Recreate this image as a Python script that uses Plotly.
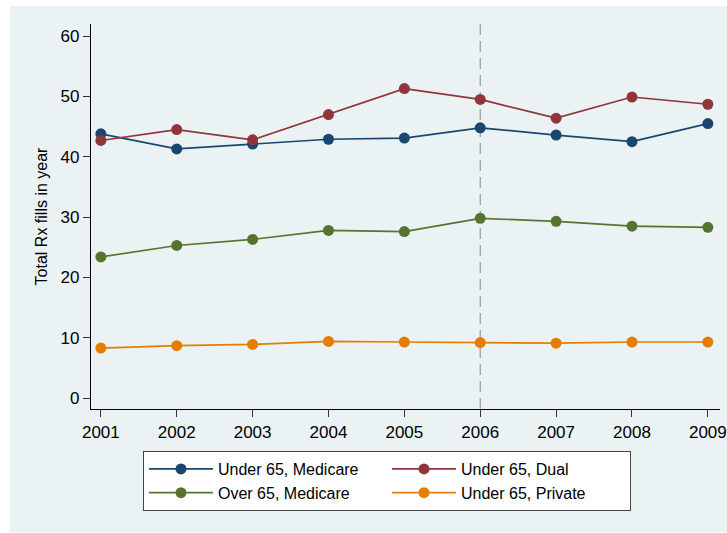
import plotly.graph_objects as go

years = [2001, 2002, 2003, 2004, 2005, 2006, 2007, 2008, 2009]
under65_medicare = [43.8, 41.3, 42.1, 42.9, 43.1, 44.8, 43.6, 42.5, 45.5]
under65_dual = [42.7, 44.5, 42.8, 47.0, 51.3, 49.5, 46.4, 49.9, 48.7]
over65_medicare = [23.4, 25.3, 26.3, 27.8, 27.6, 29.8, 29.3, 28.5, 28.3]
under65_private = [8.3, 8.7, 8.9, 9.4, 9.3, 9.2, 9.1, 9.3, 9.3]

series_names = ["Under 65, Medicare", "Under 65, Dual", "Over 65, Medicare", "Under 65, Private"]
series_colors = ["#1A476F", "#90353B", "#55752F", "#E37E00"]
y_ticks = [0, 10, 20, 30, 40, 50, 60]
grid_vals = [10, 20, 30, 40, 50]
ref_year = 2006
y_title = "Total Rx fills in year"

BG = "#EAF2F3"
FONT = "Liberation Sans, Arial, Helvetica, sans-serif"

fig = go.Figure()
for name, vals, col in zip(series_names,
                           [under65_medicare, under65_dual, over65_medicare, under65_private],
                           series_colors):
    fig.add_trace(go.Scatter(
        x=years, y=vals, name=name, mode="lines+markers",
        line=dict(color=col, width=1.7),
        marker=dict(color=col, size=11),
        cliponaxis=False,
    ))

W, H = 727, 533
L, R, T, B = 91, 7, 24, 124
pw, ph = W - L - R, H - T - B

def px_x(p):
    return (p - L) / pw

def px_y(p):
    return (H - B - p) / ph

shapes = []
# outer background panel
shapes.append(dict(type="rect", xref="paper", yref="paper",
                   x0=px_x(10), x1=px_x(730), y0=px_y(532), y1=px_y(6),
                   fillcolor=BG, line=dict(width=0), layer="below"))
for g in grid_vals:
    shapes.append(dict(type="line", xref="paper", yref="y", x0=0, x1=1, y0=g, y1=g,
                       line=dict(color=BG, width=1.2), layer="below"))
shapes.append(dict(type="line", xref="x", yref="paper", x0=ref_year, x1=ref_year, y0=0, y1=1,
                   line=dict(color="#9A9A9A", width=1.2, dash="11px,6px"), layer="below"))

fig.update_layout(
    width=W, height=H,
    margin=dict(l=L, r=R, t=T, b=B, autoexpand=False),
    paper_bgcolor="white",
    plot_bgcolor="white",
    font=dict(family=FONT, size=16, color="black"),
    shapes=shapes,
    showlegend=True,
    legend=dict(
        orientation="h", x=px_x(143), y=px_y(451), xanchor="left", yanchor="top",
        bgcolor="white", bordercolor="#444444", borderwidth=1,
        entrywidth=164, entrywidthmode="pixels",
        font=dict(family=FONT, size=16, color="black"),
        itemwidth=64, traceorder="normal", tracegroupgap=0,
    ),
    xaxis=dict(
        range=[2000.87, 2009.16], tickvals=years, ticktext=[str(y) for y in years],
        showgrid=False, zeroline=False, showline=True, linecolor="black", linewidth=1.2,
        ticks="outside", ticklen=7, tickcolor="#333333", tickwidth=1.2,
        tickfont=dict(family=FONT, size=17, color="black"),
        automargin=False,
    ),
    yaxis=dict(
        range=[-1.8, 62.0], tickvals=y_ticks, ticktext=[str(v) for v in y_ticks],
        showgrid=False, zeroline=False, showline=True, linecolor="black", linewidth=1.2,
        ticks="outside", ticklen=7, tickcolor="#333333", tickwidth=1.2,
        tickfont=dict(family=FONT, size=17, color="black"),
        title=dict(text=y_title, font=dict(family=FONT, size=16, color="black"), standoff=8),
        automargin=False,
    ),
)

fig.write_html("out.html")
